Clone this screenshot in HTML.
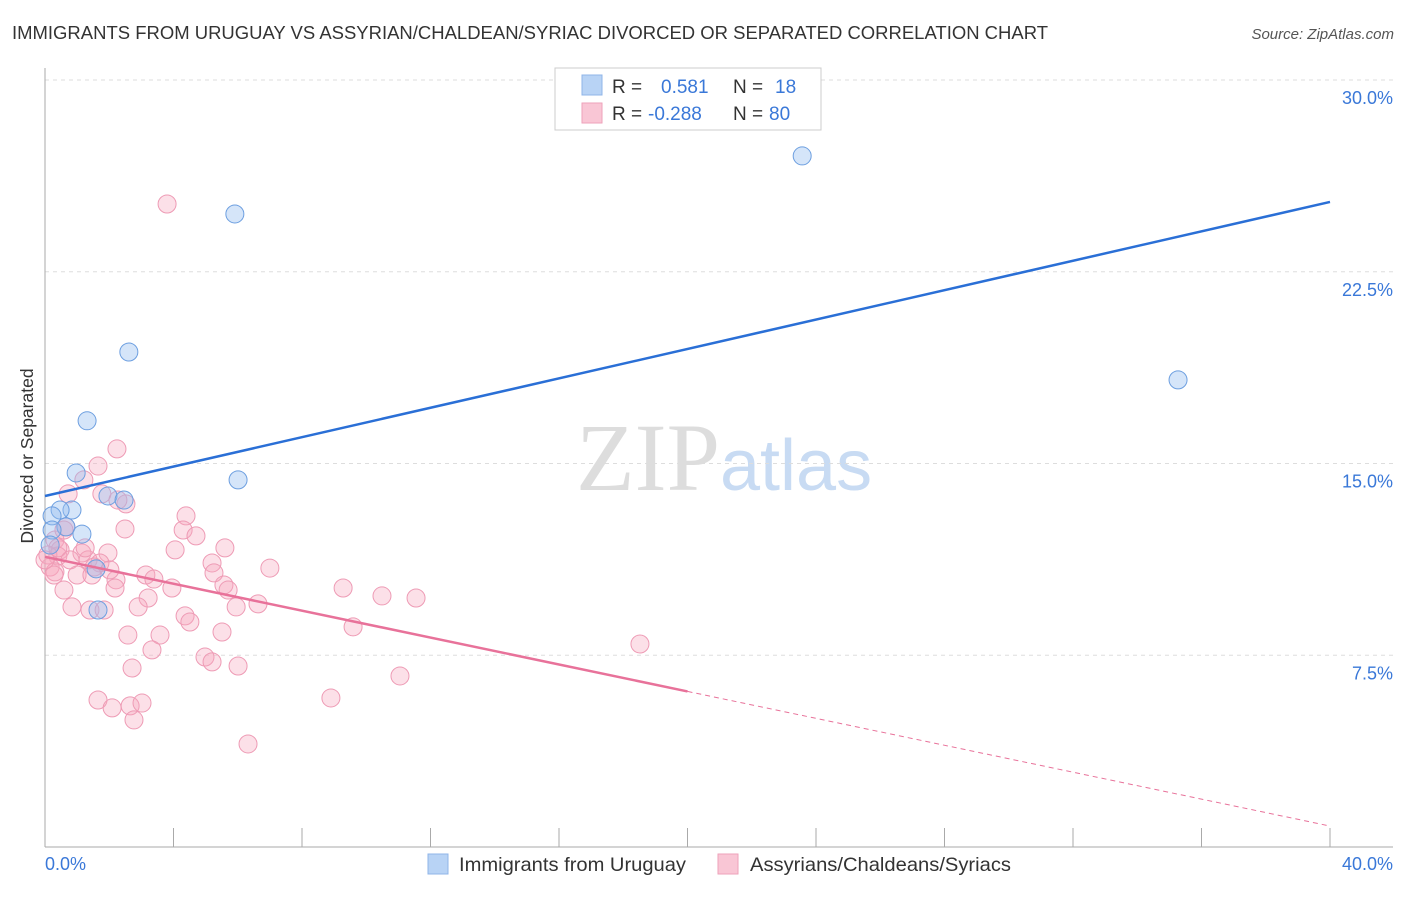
<!DOCTYPE html>
<html><head><meta charset="utf-8"><style>
body{margin:0;background:#fff;font-family:"Liberation Sans",sans-serif}
</style></head><body>
<svg id="chart" width="1406" height="892" xmlns="http://www.w3.org/2000/svg" font-family="Liberation Sans, sans-serif">
<text x="12" y="39" font-size="18" fill="#333" textLength="1036" lengthAdjust="spacingAndGlyphs">IMMIGRANTS FROM URUGUAY VS ASSYRIAN/CHALDEAN/SYRIAC DIVORCED OR SEPARATED CORRELATION CHART</text>
<text x="1394" y="39" font-size="15" fill="#555" text-anchor="end" font-style="italic">Source: ZipAtlas.com</text>
<text x="720" y="490" font-size="96" text-anchor="end" fill="#ddd" font-family="Liberation Serif, serif">ZIP</text>
<text x="720" y="490" font-size="72" fill="#c8dbf3">atlas</text>
<text transform="translate(33,456) rotate(-90)" font-size="17.5" fill="#333" text-anchor="middle">Divorced or Separated</text>
<g id="grid"></g><g id="axes"></g><g id="marks"></g>
<g>
<rect x="555" y="68" width="266" height="62" fill="#fff" stroke="#ccc"/>
<rect x="582" y="75" width="20" height="20" fill="#b8d3f5" stroke="#8fb5e8"/>
<rect x="582" y="103" width="20" height="20" fill="#f9c6d5" stroke="#eea2ba"/>
<text x="612" y="93" font-size="19" fill="#333">R =</text><text x="661" y="93" font-size="19" fill="#3a78d8">0.581</text>
<text x="733" y="93" font-size="19" fill="#333">N =</text><text x="775" y="93" font-size="19" fill="#3a78d8">18</text>
<text x="612" y="120" font-size="19" fill="#333">R =</text><text x="648" y="120" font-size="19" fill="#3a78d8">-0.288</text>
<text x="733" y="120" font-size="19" fill="#333">N =</text><text x="769" y="120" font-size="19" fill="#3a78d8">80</text>
</g>
<g>
<rect x="428" y="854" width="20" height="20" fill="#b8d3f5" stroke="#8fb5e8"/>
<text x="459" y="871" font-size="19.8" fill="#333" textLength="227" lengthAdjust="spacingAndGlyphs">Immigrants from Uruguay</text>
<rect x="718" y="854" width="20" height="20" fill="#f9c6d5" stroke="#eea2ba"/>
<text x="750" y="871" font-size="19.8" fill="#333" textLength="261" lengthAdjust="spacingAndGlyphs">Assyrians/Chaldeans/Syriacs</text>
</g>
</svg>
<script>
const yTicks=[7.5,15,22.5,30];
const yTickLabels=["7.5%","15.0%","22.5%","30.0%"];
const xTicks=[0,4,8,12,16,20,24,28,32,36,40];
const blueX=[23.57,5.91,2.61,35.27,1.31,0.97,6.01,1.96,2.46,0.84,0.47,0.22,0.65,1.15,0.22,1.59,1.65,0.16];
const blueY=[27.03,24.76,19.36,18.27,16.67,14.63,14.36,13.73,13.57,13.18,13.18,12.95,12.52,12.24,12.40,10.88,9.27,11.81];
const pinkX=[3.80,2.24,1.65,1.21,0.72,1.77,2.52,2.27,4.39,2.49,4.30,4.70,0.65,0.31,0.47,4.05,5.60,1.96,1.15,5.20,7.00,0.40,0.78,1.34,1.71,0.16,0.31,1.00,1.53,3.14,3.39,5.26,5.57,5.70,2.21,3.95,2.18,9.28,10.49,11.55,0.59,3.21,2.90,5.95,6.63,0.84,1.40,1.84,4.36,4.51,9.59,2.58,3.58,5.51,3.33,4.98,5.20,2.71,6.01,18.52,11.05,1.65,2.09,2.65,3.02,2.77,8.90,6.32,0.28,1.25,0.59,0.09,0,1.46,2.02,0.40];
const pinkY=[25.15,15.57,14.90,14.36,13.81,13.81,13.42,13.57,12.95,12.44,12.40,12.17,12.52,12.01,11.62,11.62,11.70,11.50,11.50,11.11,10.91,11.38,11.23,11.23,11.11,10.95,10.76,10.64,10.95,10.64,10.48,10.72,10.25,10.05,10.45,10.13,10.13,10.13,9.82,9.74,10.05,9.74,9.39,9.39,9.51,9.39,9.27,9.27,9.04,8.80,8.61,8.29,8.29,8.41,7.71,7.43,7.24,7.00,7.08,7.94,6.69,5.75,5.44,5.52,5.63,4.97,5.83,4.03,10.64,11.70,12.40,11.42,11.23,10.64,10.84,11.70];
const blueTrend=[13.73,25.23];
const pinkTrend=[11.35,0.82];
const pinkSolidEnd=20;
const NS='http://www.w3.org/2000/svg';
const sx=v=>45+v/40*1285, sy=v=>847-v/30*767;
function mk(tag,attrs,parent){const e=document.createElementNS(NS,tag);for(const k in attrs)e.setAttribute(k,attrs[k]);parent.appendChild(e);return e;}
const grid=document.getElementById('grid'),axes=document.getElementById('axes'),marks=document.getElementById('marks');
yTicks.forEach((t,i)=>{
 const l=mk('line',{x1:45,x2:1393,y1:sy(t),y2:sy(t),stroke:'#ddd','stroke-dasharray':'4,4'},grid);
 
 
 const tx=mk('text',{x:1393,y:sy(t)+24,'font-size':18,fill:'#3a78d8','text-anchor':'end'},axes);
 tx.textContent=yTickLabels[i];
 
 
});
const ya=mk('line',{x1:45,x2:45,y1:68,y2:847,stroke:'#aaa'},axes);


const xa=mk('line',{x1:45,x2:1393,y1:847,y2:847,stroke:'#aaa'},axes);


xTicks.forEach(t=>{
 const l=mk('line',{x1:sx(t),x2:sx(t),y1:828,y2:847,stroke:'#aaa'},axes);
 
 
});
const xl0=mk('text',{x:45,y:870,'font-size':18,fill:'#3a78d8'},axes);xl0.textContent='0.0%';


const xl1=mk('text',{x:1393,y:870,'font-size':18,fill:'#3a78d8','text-anchor':'end'},axes);xl1.textContent='40.0%';


pinkX.forEach((v,i)=>{
 const c=mk('circle',{cx:sx(v),cy:sy(pinkY[i]),r:9,fill:'rgba(245,165,190,0.35)',stroke:'#ee9bb5','stroke-width':1},marks);
 
 
});
blueX.forEach((v,i)=>{
 const c=mk('circle',{cx:sx(v),cy:sy(blueY[i]),r:9,fill:'rgba(150,190,240,0.4)',stroke:'#6d9fe0','stroke-width':1},marks);
 
 
});
const bl=mk('line',{x1:sx(0),y1:sy(blueTrend[0]),x2:sx(40),y2:sy(blueTrend[1]),stroke:'#2a6fd6','stroke-width':2.5},marks);


const pAt=x=>pinkTrend[0]+(pinkTrend[1]-pinkTrend[0])*x/40;
const pl=mk('line',{x1:sx(0),y1:sy(pinkTrend[0]),x2:sx(pinkSolidEnd),y2:sy(pAt(pinkSolidEnd)),stroke:'#e8729a','stroke-width':2.5},marks);


const pd=mk('line',{x1:sx(pinkSolidEnd),y1:sy(pAt(pinkSolidEnd)),x2:sx(40),y2:sy(pinkTrend[1]),stroke:'#e8729a','stroke-width':1,'stroke-dasharray':'5,4'},marks);


</script>
</body></html>
